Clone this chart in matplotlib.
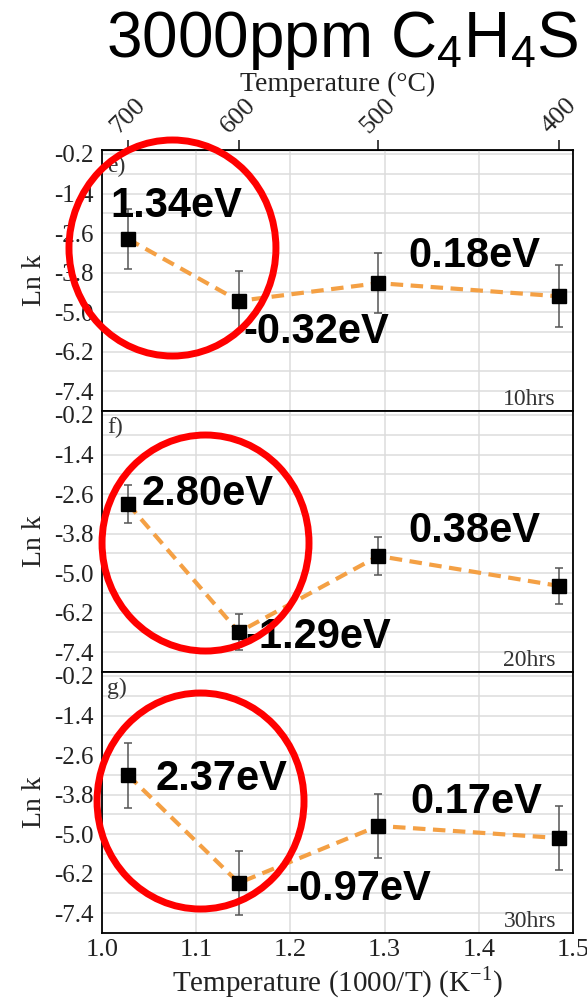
import numpy as np
import matplotlib
matplotlib.use('Agg')
import matplotlib.pyplot as plt
from matplotlib.patches import Ellipse

plt.rcParams['font.family'] = 'Liberation Serif'
plt.rcParams['axes.unicode_minus'] = False

# measurement temperatures and ln k per exposure time
temps_c = [700, 600, 500, 400]
hours = ['10hrs', '20hrs', '30hrs']
panel_tags = ['e)', 'f)', 'g)']
ln_k = [[-2.78, -4.66, -4.12, -4.52],
        [-2.90, -6.79, -4.48, -5.39],
        [-3.21, -6.48, -4.75, -5.12]]
ln_k_err = [[0.92, 0.91, 0.92, 0.94],
            [0.58, 0.55, 0.59, 0.56],
            [0.99, 0.98, 0.97, 0.97]]
energies = [['1.34eV', '-0.32eV', '0.18eV'],
            ['2.80eV', '-1.29eV', '0.38eV'],
            ['2.37eV', '-0.97eV', '0.17eV']]

# where the activation energy labels sit (data coords, baseline-left)
label_xy = [[(1.0085, -2.11), (1.150, -5.94), (1.325, -3.63)],
            [(1.042, -2.93), (1.152, -7.27), (1.325, -4.06)],
            [(1.057, -3.66), (1.195, -7.00), (1.327, -4.36)]]
# red highlight ellipses (centre in data coords)
ring_xy = [(1.0748, -3.054), (1.1099, -4.086), (1.1046, -3.995)]
ring_w, ring_h = 0.2197, 6.555

inv_t = [1000.0 / (t + 273.15) for t in temps_c]

fig = plt.figure(figsize=(5.87, 10), dpi=100)
left, width, height = 102 / 587, 471 / 587, 0.261
bottoms = [1 - 411 / 1000, 1 - 672 / 1000, 1 - 933 / 1000]

axes = []
for i in range(3):
    ax = fig.add_axes([left, bottoms[i], width, height])
    axes.append(ax)

    ax.plot(inv_t, ln_k[i], ls='--', color='#F4A044', lw=3, dashes=(3, 1.8), zorder=2)
    ax.errorbar(inv_t, ln_k[i], yerr=ln_k_err[i], fmt='none', ecolor='#555555',
                elinewidth=1.1, capsize=3, capthick=1.1, zorder=3)
    ax.plot(inv_t, ln_k[i], 's', color='black', ms=10, zorder=4)

    for txt, (tx, ty) in zip(energies[i], label_xy[i]):
        ax.text(tx, ty, txt, fontsize=30, fontweight='bold', family='Liberation Sans',
                ha='left', va='baseline', zorder=5)

    ring = Ellipse(ring_xy[i], ring_w, ring_h, fill=False, edgecolor='#FF0000',
                   lw=5, zorder=10, clip_on=False)
    ax.add_patch(ring)

    ax.text(5 / 471, 1 - 6 / 261, panel_tags[i], transform=ax.transAxes,
            ha='left', va='top', fontsize=17, color='#333333')
    ax.text(1 - 17 / 471, 6 / 261, hours[i], transform=ax.transAxes,
            ha='right', va='baseline', fontsize=17, color='#333333')

    ax.set_xlim(1.0, 1.5)
    ax.set_ylim(-8.0, -0.08)
    ax.set_xticks(np.arange(1.0, 1.51, 0.1))
    ax.set_yticks(np.arange(-0.2, -7.5, -1.2))
    ax.set_yticks(np.arange(-0.8, -8.0, -1.2), minor=True)
    ax.yaxis.set_major_formatter(matplotlib.ticker.FormatStrFormatter('%.1f'))
    ax.grid(which='both', color='#dcdcdc', lw=1.1, zorder=0)
    ax.set_axisbelow(True)
    ax.tick_params(axis='both', which='both', length=0)
    ax.tick_params(axis='y', labelsize=18, pad=6, colors='#222222')
    ax.tick_params(axis='x', labelsize=19, pad=4, colors='#222222')
    for sp in ax.spines.values():
        sp.set_linewidth(1.3)
    ax.set_ylabel('Ln k', fontsize=20, labelpad=5, color='#222222')
    if i < 2:
        ax.tick_params(axis='x', labelbottom=False)

axes[2].set_xlabel('Temperature (1000/T) (K$^{\\mathregular{-1}}$)', fontsize=21,
                   labelpad=3, color='#222222')

# temperature scale along the top of the first panel
sec = axes[0].secondary_xaxis('top', functions=(lambda x: 1000.0 / np.maximum(x, 1e-6) - 273.15,
                                                lambda t: 1000.0 / np.maximum(t + 273.15, 1e-6)))
sec.set_xticks(temps_c)
sec.set_xticklabels([str(t) for t in temps_c], rotation=45)
sec.tick_params(length=7, width=1.2, direction='out', labelsize=19, pad=2, colors='#222222')
sec.set_xlabel('Temperature (\u00b0C)', fontsize=20, labelpad=2, color='#222222')

fig.text(0.985, 0.943, '3000ppm C$_\\mathregular{4}$H$_\\mathregular{4}$S', fontsize=46,
         family='Liberation Sans', ha='right', va='baseline')

fig.savefig('out.png', dpi=100)
